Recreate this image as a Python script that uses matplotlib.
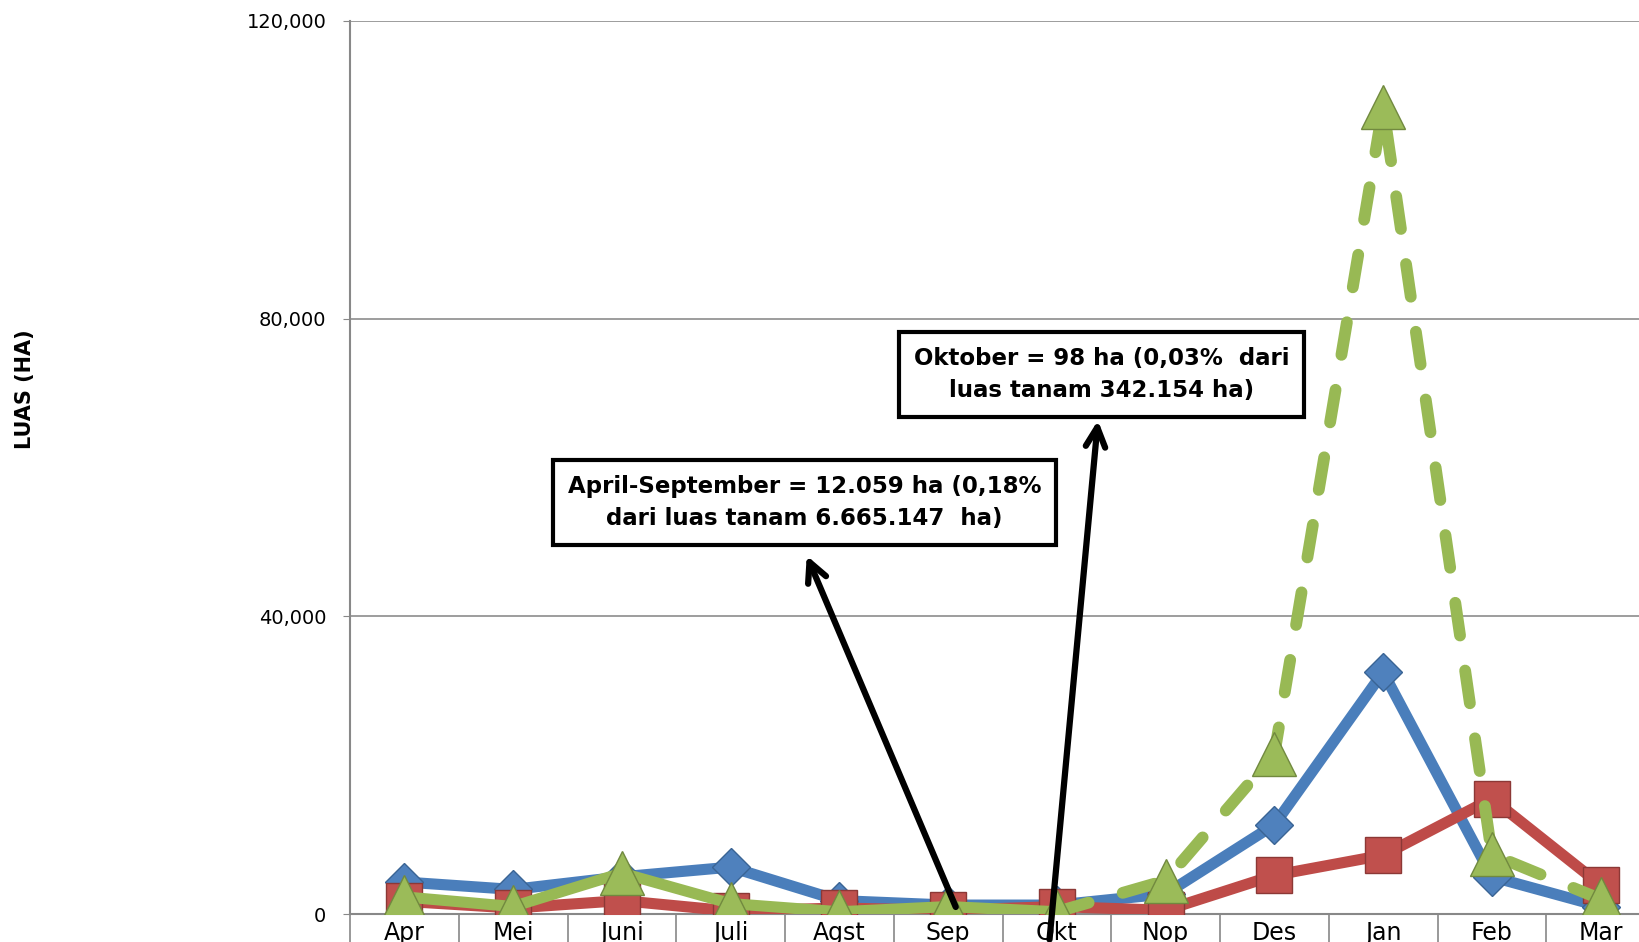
import numpy as np
import matplotlib.pyplot as plt
from matplotlib.ticker import FuncFormatter

# data
months = ["Apr", "Mei", "Juni", "Juli", "Agst", "Sep", "Okt", "Nop", "Des", "Jan", "Feb", "Mar"]
blue_vals = [4300, 3300, 5000, 6300, 1800, 1200, 1200, 2700, 12000, 32500, 5000, 1000]
red_vals = [1700, 800, 1800, 400, 800, 500, 1000, 500, 5200, 7900, 15500, 3900]
green_vals = [2300, 1000, 5500, 1400, 300, 1000, 300, 4500, 21500, 108500, 8000, 2000]
yticks = [0, 40000, 80000, 120000]

box1_text = "April-September = 12.059 ha (0,18%\ndari luas tanam 6.665.147  ha)"
box2_text = "Oktober = 98 ha (0,03%  dari\nluas tanam 342.154 ha)"

narrow = ['DejaVu Sans Condensed', 'DejaVu Sans']

fig = plt.figure(figsize=(16.39, 9.42), dpi=100)
ax = fig.add_axes([350 / 1639, 28 / 942, 1305 / 1639, 893 / 942])

x = np.arange(len(months))

# blue series
ax.plot(x, blue_vals, color='#4A7EBB', lw=8, solid_joinstyle='round', zorder=3)
ax.plot(x, blue_vals, ls='none', marker='D', ms=19, mfc='#4F81BD',
        mec='#3A6494', mew=1, zorder=4)

# red series
ax.plot(x, red_vals, color='#BE4B48', lw=8, solid_joinstyle='round', zorder=5)
ax.plot(x, red_vals, ls='none', marker='s', ms=26, mfc='#C0504D',
        mec='#8C3836', mew=1, zorder=6)

# green series: solid up to Okt, dashed after
ax.plot(x[:7], green_vals[:7], color='#98B954', lw=8, solid_joinstyle='round',
        solid_capstyle='round', zorder=7)
ax.plot(x[6:], green_vals[6:], color='#98B954', lw=8.5, dashes=(2.8, 3.0),
        dash_capstyle='round', zorder=7)
ax.plot(x, green_vals, ls='none', marker='^', ms=31, mfc='#9BBB59',
        mec='#71893F', mew=1, zorder=8)

ax.set_xlim(-0.5, 11.5)
ax.set_ylim(0, 120000)

ax.set_yticks(yticks)
ax.yaxis.set_major_formatter(FuncFormatter(lambda v, p: f"{int(v):,}"))
ax.tick_params(axis='y', length=5, color='#888888', labelsize=14, pad=12)
ax.grid(axis='y', color='#8C8C8C', lw=1.2)
ax.set_axisbelow(True)

ax.set_xticks(x)
ax.set_xticklabels(months)
ax.set_xticks(np.arange(-0.5, 12, 1), minor=True)
ax.tick_params(axis='x', which='major', length=0, labelsize=17, pad=5)
ax.tick_params(axis='x', which='minor', length=30, color='#888888', width=1.2)

for s in ['top', 'right']:
    ax.spines[s].set_visible(False)
for s in ['left', 'bottom']:
    ax.spines[s].set_color('#888888')
    ax.spines[s].set_linewidth(1.5)

fig.text(0.015, 1 - 389 / 942, "LUAS (HA)", rotation=90, ha='center', va='center',
         fontsize=15, fontweight='bold', family=narrow)

# annotation boxes with arrows
ax.annotate('', xy=(3.69, 48500), xytext=(5.08, 600),
            arrowprops=dict(arrowstyle='->', lw=4.5, color='black', mutation_scale=35),
            zorder=10, annotation_clip=False)
ax.annotate('', xy=(6.38, 66700), xytext=(5.93, -3800),
            arrowprops=dict(arrowstyle='->', lw=4.5, color='black', mutation_scale=35),
            zorder=10, annotation_clip=False)

ax.text(3.68, 55300, box1_text, ha='center', va='center', fontsize=16.5,
        fontweight='bold', family=narrow, linespacing=1.55, zorder=11,
        bbox=dict(boxstyle='square,pad=0.65', fc='white', ec='black', lw=3))
ax.text(6.41, 72500, box2_text, ha='center', va='center', fontsize=16.5,
        fontweight='bold', family=narrow, linespacing=1.55, zorder=11,
        bbox=dict(boxstyle='square,pad=0.65', fc='white', ec='black', lw=3))

fig.savefig("out.png", dpi=100)
